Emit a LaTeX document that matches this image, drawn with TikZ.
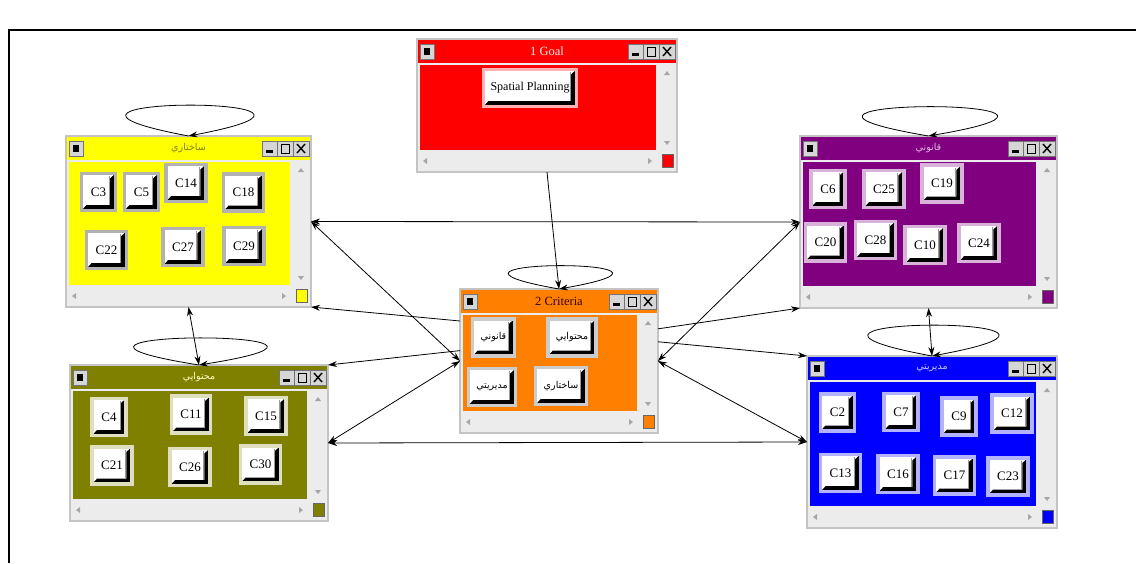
\documentclass[tikz,border=0pt]{standalone}
\usepackage{fontspec}
\setmainfont{Liberation Serif}
\newfontfamily\farsi[Script=Arabic]{DejaVu Sans}
\TeXXeTstate=1
\usetikzlibrary{arrows.meta}

\newcommand\fa[1]{{\farsi\fontsize{9.5}{9.5}\selectfont\beginR #1\endR}}
\newcommand\pb{path picture bounding box}

\definecolor{goalred}{HTML}{FF0000}
\definecolor{structyellow}{HTML}{FFFF00}
\definecolor{legalpurple}{HTML}{800080}
\definecolor{critorange}{HTML}{FF8000}
\definecolor{contentolive}{HTML}{808000}
\definecolor{manageblue}{HTML}{0000FF}
\definecolor{chromegray}{HTML}{ECECEC}
\definecolor{rimgray}{HTML}{C4C4C4}
\definecolor{capgray}{HTML}{D6D6D6}

\tikzset{
  chrome/.style={fill=chromegray},
  rim/.style={draw=rimgray, line width=1.5pt},
  capbtn/.style={fill=capgray, draw=black!55, line width=0.6pt},
  scrolltip/.style={fill=black!35},
  btn/.style={draw=#1, line width=3.5pt, fill=white, inner xsep=9pt, inner ysep=0pt,
    minimum width=34pt, minimum height=37pt, outer sep=0pt,
    font=\fontsize{13}{13}\selectfont,
    path picture={
      \fill[black] (\pb.south west) -- (\pb.south east) -- (\pb.north east)
        -- ([shift={(-5.5pt,-5pt)}]\pb.north east) -- ([shift={(-5.5pt,5.5pt)}]\pb.south east)
        -- ([shift={(5pt,5.5pt)}]\pb.south west) -- cycle;
      \draw[black!40, line width=0.8pt] ([shift={(-6pt,6pt)}]\pb.south east)
        -- ([shift={(-6pt,-2.5pt)}]\pb.north east);
    }},
  link/.style={line width=0.8pt, >={Stealth[length=9pt,width=6pt]}},
}

% window: name, x1, y1, x2, y2, colour, title colour, title
\newcommand\pane[8]{%
  \fill[chrome] (#2,#3) rectangle (#4,#5);
  \fill[#6] (#2+1,#3+1) rectangle (#4-1,#3+24);
  \fill[#6] (#2+3,#3+26) rectangle (#4-21,#5-22);
  \draw[rim] (#2,#3) rectangle (#4,#5);
  % title bar boxes
  \filldraw[capbtn] (#2+3,#3+5) rectangle (#2+17,#3+20);
  \fill (#2+7,#3+9) rectangle (#2+13,#3+16);
  \filldraw[capbtn] (#4-49,#3+5) rectangle (#4-34,#3+20);
  \filldraw[capbtn] (#4-34,#3+5) rectangle (#4-18,#3+20);
  \filldraw[capbtn] (#4-18,#3+5) rectangle (#4-2,#3+20);
  \fill (#4-45,#3+14) rectangle (#4-38,#3+16.5);
  \draw[line width=0.9pt] (#4-30,#3+8) rectangle (#4-22,#3+17);
  \draw[line width=1.4pt] (#4-14,#3+8) -- (#4-6,#3+17) (#4-14,#3+17) -- (#4-6,#3+8);
  % scroll bars
  \fill[scrolltip] (#4-10,#3+32) -- (#4-13,#3+36) -- (#4-7,#3+36) -- cycle;
  \fill[scrolltip] (#4-10,#5-27) -- (#4-13,#5-31) -- (#4-7,#5-31) -- cycle;
  \fill[scrolltip] (#2+6,#5-11) -- (#2+10,#5-14) -- (#2+10,#5-8) -- cycle;
  \fill[scrolltip] (#4-25,#5-11) -- (#4-29,#5-14) -- (#4-29,#5-8) -- cycle;
  \filldraw[fill=#6, draw=black!60, line width=0.6pt] (#4-15,#5-18) rectangle (#4-4,#5-5);
  \node[text=#7, font=\fontsize{12.5}{12.5}\selectfont] (#1-title) at ({(#2+#4)/2},#3+12.5) {#8};
  \node[inner sep=0pt, outer sep=0pt, minimum width={(#4-#2)*1pt},
    minimum height={(#5-#3)*1pt}] (#1) at ({(#2+#4)/2},{(#3+#5)/2}) {};
}

\begin{document}
\begin{tikzpicture}[x=1pt, y=-1pt]
\useasboundingbox (0,0) rectangle (1136,563);
\draw[line width=1.6pt] (9,563) -- (9,30) -- (1136,30);

% windows
\pane{goal}{417}{39}{677}{172}{goalred}{red!8!white}{1 Goal}
\pane{struct}{66}{136}{311}{307}{structyellow}{contentolive}{\fa{ساختاري}}
\pane{legal}{800}{136}{1057}{308}{legalpurple}{legalpurple!25!white}{\fa{قانوني}}
\pane{crit}{460}{289}{658}{433}{critorange}{black!80!red}{2 Criteria}
\pane{content}{70}{365}{328}{521}{contentolive}{yellow!20!white}{\fa{محتوايي}}
\pane{manage}{807}{356}{1057}{528}{manageblue}{blue!20!white}{\fa{مديريتي}}

% buttons
\node[btn=red!30!white, inner xsep=7pt, font=\fontsize{12}{12}\selectfont] (plan) at (530,88) {Spatial Planning};

\node[btn=black!30] (c3) at (98.5,192) {C3};
\node[btn=black!30] (c5) at (141.5,192) {C5};
\node[btn=black!30] (c14) at (186,183) {C14};
\node[btn=black!30] (c18) at (243.5,192.5) {C18};
\node[btn=black!30] (c22) at (106.5,250) {C22};
\node[btn=black!30] (c27) at (183,247) {C27};
\node[btn=black!30] (c29) at (244,246) {C29};

\node[btn=legalpurple!30!white] (c6) at (828,189) {C6};
\node[btn=legalpurple!30!white] (c25) at (884,189) {C25};
\node[btn=legalpurple!30!white] (c19) at (942,183.5) {C19};
\node[btn=legalpurple!30!white] (c20) at (825.5,242.5) {C20};
\node[btn=legalpurple!30!white] (c28) at (875.5,240) {C28};
\node[btn=legalpurple!30!white] (c10) at (925,245) {C10};
\node[btn=legalpurple!30!white] (c24) at (979,243) {C24};

\node[btn=black!20, inner xsep=8pt] (k-legal) at (493.5,337.5) {\fa{قانوني}};
\node[btn=black!20, inner xsep=8pt] (k-content) at (572,337.5) {\fa{محتوايي}};
\node[btn=black!20, inner xsep=8pt] (k-manage) at (492,387) {\fa{مديريتي}};
\node[btn=black!20, inner xsep=8pt] (k-struct) at (561,386) {\fa{ساختاري}};

\node[btn=contentolive!25!white] (c4) at (109,417) {C4};
\node[btn=contentolive!25!white] (c11) at (191,414.5) {C11};
\node[btn=contentolive!25!white] (c15) at (266,416) {C15};
\node[btn=contentolive!25!white] (c21) at (112,465.5) {C21};
\node[btn=contentolive!25!white] (c26) at (190,467) {C26};
\node[btn=contentolive!25!white] (c30) at (260.5,464.5) {C30};

\node[btn=manageblue!30!white] (c2) at (837.5,412.5) {C2};
\node[btn=manageblue!30!white] (c7) at (901,412) {C7};
\node[btn=manageblue!30!white] (c9) at (959,416.5) {C9};
\node[btn=manageblue!30!white] (c12) at (1012,413.5) {C12};
\node[btn=manageblue!30!white] (c13) at (840.5,473) {C13};
\node[btn=manageblue!30!white] (c16) at (898,474) {C16};
\node[btn=manageblue!30!white] (c17) at (954.5,475.5) {C17};
\node[btn=manageblue!30!white] (c23) at (1008,476.5) {C23};

% links
\draw[link, ->] (goal.south) -- (crit.north);
\draw[link, <->] (struct.east) -- (legal.west);
\draw[link, <->] (content.east) -- (manage.west);
\draw[link, <->] (struct.east) -- (crit.west);
\draw[link, <->] (legal.west) -- (crit.east);
\draw[link, <->] (content.east) -- (crit.west);
\draw[link, <->] (manage.west) -- (crit.east);
\draw[link, ->] (crit.158.5) -- (struct.south east);
\draw[link, ->] (crit.174) -- (content.north east);
\draw[link, ->] (crit.18.6) -- (legal.south west);
\draw[link, ->] (crit.11) -- (manage.north west);
\draw[link, <->] (struct.south) -- (content.north);
\draw[link, <->] (legal.south) -- (manage.north);

% self loops
\draw[link, ->] (struct.north) .. controls +(-218pt,41pt) and +(218pt,41pt) .. (struct.north);
\draw[link, ->] (legal.north) .. controls +(-230pt,39pt) and +(230pt,39pt) .. (legal.north);
\draw[link, ->] (crit.north) .. controls +(-176pt,31pt) and +(176pt,31pt) .. (crit.north);
\draw[link, ->] (content.north) .. controls +(-227pt,36pt) and +(227pt,36pt) .. (content.north);
\draw[link, ->] (manage.north) .. controls +(-223pt,41pt) and +(223pt,41pt) .. (manage.north);
\end{tikzpicture}
\end{document}
